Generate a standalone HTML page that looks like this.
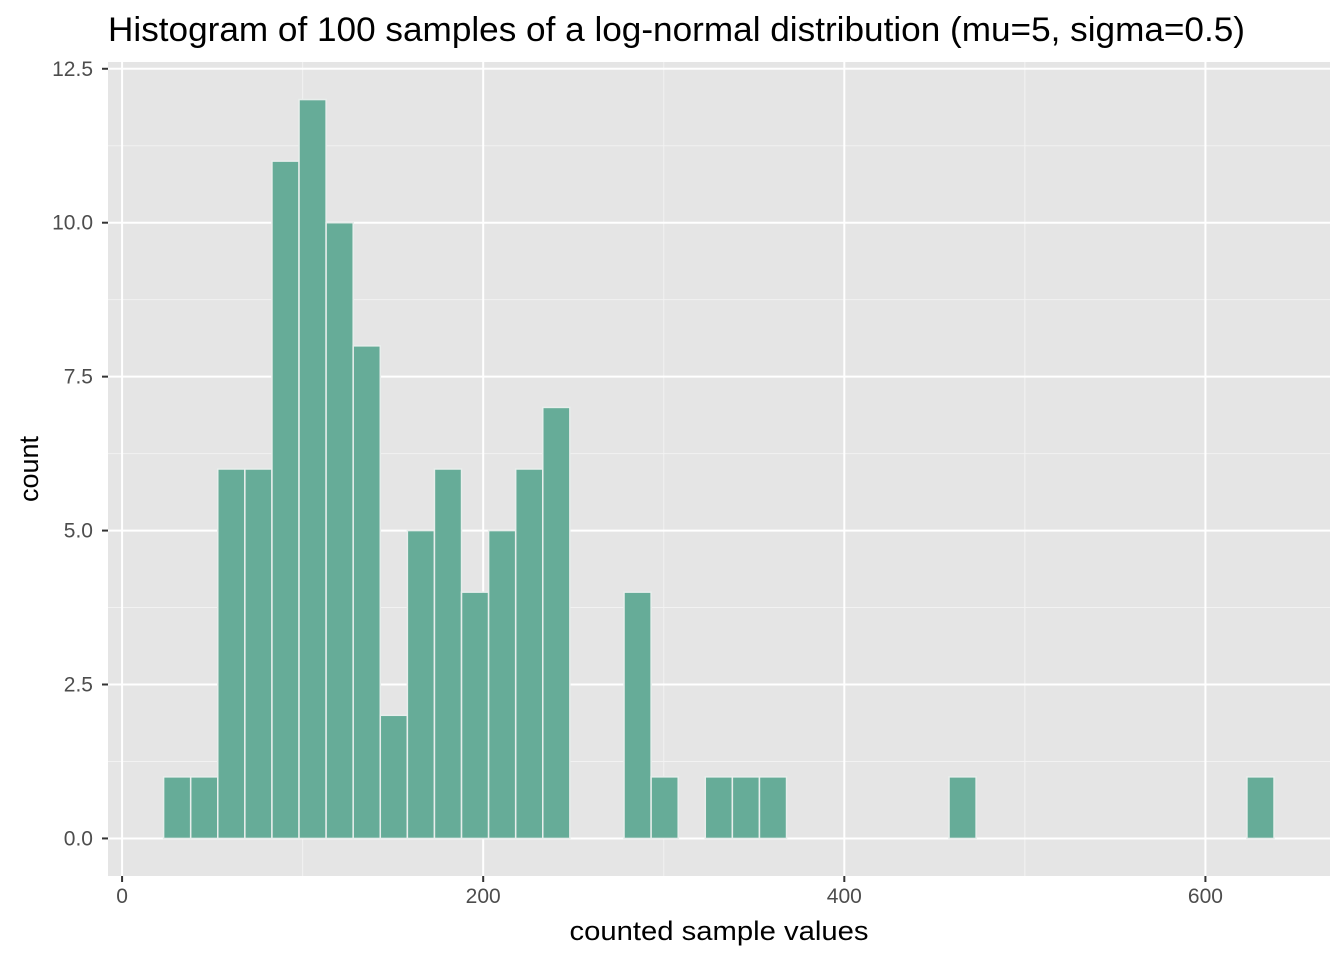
<!DOCTYPE html>
<html><head><meta charset="utf-8"><style>
body{margin:0;background:#fff;}
svg text{font-family:"Liberation Sans",Arial,sans-serif;}
</style></head><body>
<svg width="1344" height="960">
<text x="108" y="41" font-size="34" fill="#000" textLength="1137" lengthAdjust="spacingAndGlyphs">Histogram of 100 samples of a log-normal distribution (mu=5, sigma=0.5)</text>
<rect x="108" y="62" width="1222" height="814" fill="#e5e5e5"/>
<g id="grid"></g><g id="bars"></g><g id="axes"></g>
<text x="719" y="940" font-size="27" text-anchor="middle" fill="#000" textLength="299" lengthAdjust="spacingAndGlyphs">counted sample values</text>
<text transform="translate(38,469) rotate(-90)" font-size="27" text-anchor="middle" fill="#000">count</text>
</svg>
<script>
const counts=[1,1,6,6,11,12,10,8,2,5,6,4,5,6,7,0,0,4,1,0,1,1,1,0,0,0,0,0,0,1,0,0,0,0,0,0,0,0,0,0,1];
const binStart=23.0;
const binWidth=15.0;
const xTicks=[0,200,400,600];
const yTicks=[0,2.5,5,7.5,10,12.5];
const NS="http://www.w3.org/2000/svg";
const X0=108,X1=1330,Y0=876,Y1=62;
const xMin=-7.8,xMax=669,yMin=-0.61,yMax=12.61;
const sx=v=>X0+(v-xMin)/(xMax-xMin)*(X1-X0);
const sy=v=>Y0-(v-yMin)/(yMax-yMin)*(Y0-Y1);
function mk(tag,attrs,parent){const e=document.createElementNS(NS,tag);for(const k in attrs)e.setAttribute(k,attrs[k]);document.getElementById(parent).appendChild(e);return e;}
const xMinor=[];for(let i=0;i<xTicks.length-1;i++)xMinor.push((xTicks[i]+xTicks[i+1])/2);
const yMinor=[];for(let i=0;i<yTicks.length-1;i++)yMinor.push((yTicks[i]+yTicks[i+1])/2);
xMinor.forEach(v=>{const l=mk('line',{x1:sx(v),x2:sx(v),y1:Y1,y2:Y0,stroke:'#f2f2f2','stroke-width':1},'grid');});
yMinor.forEach(v=>{const l=mk('line',{x1:X0,x2:X1,y1:sy(v),y2:sy(v),stroke:'#f2f2f2','stroke-width':1},'grid');});
xTicks.forEach(v=>{const l=mk('line',{x1:sx(v),x2:sx(v),y1:Y1,y2:Y0,stroke:'#fff','stroke-width':2},'grid');
const t=mk('line',{x1:sx(v),x2:sx(v),y1:Y0,y2:Y0+6,stroke:'#333','stroke-width':2},'axes');
const tx=mk('text',{x:sx(v),y:Y0+27,'font-size':21,'text-anchor':'middle',fill:'#4d4d4d'},'axes');tx.textContent=v;});
yTicks.forEach(v=>{const l=mk('line',{x1:X0,x2:X1,y1:sy(v),y2:sy(v),stroke:'#fff','stroke-width':2},'grid');
const t=mk('line',{x1:X0-6,x2:X0,y1:sy(v),y2:sy(v),stroke:'#333','stroke-width':2},'axes');
const tx=mk('text',{x:X0-15,y:sy(v)+7,'font-size':21,'text-anchor':'end',fill:'#4d4d4d'},'axes');tx.textContent=v.toFixed(1);});
counts.forEach((c,i)=>{const a=binStart+i*binWidth,b=a+binWidth;
const r=mk('rect',{x:sx(a),y:sy(c),width:sx(b)-sx(a),height:sy(0)-sy(c),fill:'#66ac98',stroke:'#e8eeec','stroke-width':1.5},'bars');

});
</script>
</body></html>
